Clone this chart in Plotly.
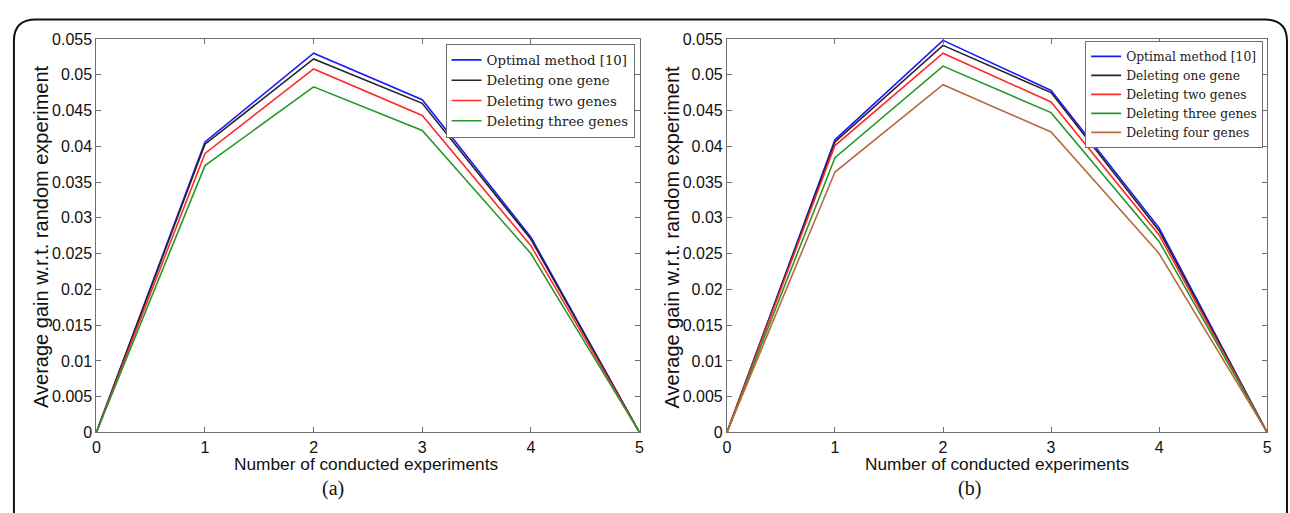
import plotly.graph_objects as go

W, H = 1290, 513

# Number of conducted experiments (x axis)
steps = [0, 1, 2, 3, 4, 5]

# Panel (a): average gain w.r.t. random experiment
a_optimal = [0, 0.0406, 0.0530, 0.0465, 0.0273, 0]
a_del_one = [0, 0.0403, 0.0522, 0.0460, 0.0270, 0]
a_del_two = [0, 0.0390, 0.0508, 0.0443, 0.0261, 0]
a_del_three = [0, 0.0373, 0.0483, 0.0422, 0.0250, 0]

# Panel (b): average gain w.r.t. random experiment
b_optimal = [0, 0.0409, 0.0548, 0.0478, 0.0286, 0]
b_del_one = [0, 0.0406, 0.0541, 0.0475, 0.0282, 0]
b_del_two = [0, 0.0401, 0.0530, 0.0462, 0.0276, 0]
b_del_three = [0, 0.0384, 0.0512, 0.0447, 0.0267, 0]
b_del_four = [0, 0.0364, 0.0486, 0.0420, 0.0250, 0]

series_names = ["Optimal method [10]", "Deleting one gene", "Deleting two genes",
                "Deleting three genes", "Deleting four genes"]
series_colors = ["#1a1aff", "#262626", "#ff2a2a", "#2a962a", "#b86a40"]

y_tick_vals = [0, 0.005, 0.01, 0.015, 0.02, 0.025, 0.03, 0.035, 0.04, 0.045, 0.05, 0.055]
y_tick_text = ["0", "0.005", "0.01", "0.015", "0.02", "0.025", "0.03", "0.035",
               "0.04", "0.045", "0.05", "0.055"]
x_tick_vals = [0, 1, 2, 3, 4, 5]


def px(x):
    return x / W


def py(y):
    return 1 - y / H


fig = go.Figure()

panel_a = [a_optimal, a_del_one, a_del_two, a_del_three]
panel_b = [b_optimal, b_del_one, b_del_two, b_del_three, b_del_four]

for i, ys in enumerate(panel_a):
    fig.add_trace(go.Scatter(x=steps, y=ys, mode="lines", name=series_names[i],
                             line=dict(color=series_colors[i], width=1.6),
                             xaxis="x", yaxis="y", legend="legend"))
for i, ys in enumerate(panel_b):
    fig.add_trace(go.Scatter(x=steps, y=ys, mode="lines", name=series_names[i],
                             line=dict(color=series_colors[i], width=1.6),
                             xaxis="x2", yaxis="y2", legend="legend2"))

tick_font = dict(family="Liberation Sans, Arial, sans-serif", size=16, color="#111")
axis_common = dict(showgrid=False, zeroline=False, showline=True, linecolor="#6e6e6e",
                   linewidth=1, mirror="ticks", ticks="inside", ticklen=5,
                   tickcolor="#6e6e6e", tickfont=tick_font)

left_x = (93, 640)
right_x = (728, 1272)
top_y, bot_y = 32, 439

legend_font = "DejaVu Serif, Liberation Serif, serif"

fig.update_layout(
    width=W, height=H,
    margin=dict(l=0, r=0, t=0, b=0),
    paper_bgcolor="white", plot_bgcolor="white",
    xaxis=dict(domain=[px(left_x[0]), px(left_x[1])], range=[0, 5], tickvals=x_tick_vals,
               anchor="y", **axis_common),
    yaxis=dict(domain=[py(bot_y), py(top_y)], range=[0, 0.055], tickvals=y_tick_vals,
               ticktext=y_tick_text, anchor="x", **axis_common),
    xaxis2=dict(domain=[px(right_x[0]), px(right_x[1])], range=[0, 5], tickvals=x_tick_vals,
                anchor="y2", **axis_common),
    yaxis2=dict(domain=[py(bot_y), py(top_y)], range=[0, 0.055], tickvals=y_tick_vals,
                ticktext=y_tick_text, anchor="x2", **axis_common),
    legend=dict(x=px(635), y=py(37), xanchor="right", yanchor="top",
                bgcolor="white", bordercolor="#6e6e6e", borderwidth=1,
                font=dict(family=legend_font, size=13.3, color="#222"),
                tracegroupgap=0, itemwidth=30),
    legend2=dict(x=px(1268), y=py(34), xanchor="right", yanchor="top",
                 bgcolor="white", bordercolor="#6e6e6e", borderwidth=1,
                 font=dict(family=legend_font, size=12.3, color="#222"),
                 tracegroupgap=0, itemwidth=30),
    showlegend=True,
)

title_font = dict(family="Liberation Sans, Arial, sans-serif", size=17.3, color="#111")
ytitle_font = dict(family="Liberation Sans, Arial, sans-serif", size=20, color="#111")
label_font = dict(family="Liberation Serif, Times New Roman, serif", size=20, color="#111")

annotations = [
    dict(text="Number of conducted experiments", x=px(365), y=py(459), yanchor="top",
         font=title_font),
    dict(text="Number of conducted experiments", x=px(1000), y=py(459), yanchor="top",
         font=title_font),
    dict(text="Average gain w.r.t. random experiment", x=px(37), y=py(237), textangle=-90,
         font=ytitle_font),
    dict(text="Average gain w.r.t. random experiment", x=px(673), y=py(237), textangle=-90,
         font=ytitle_font),
    dict(text="(a)", x=px(331), y=py(497), font=label_font),
    dict(text="(b)", x=px(972), y=py(497), font=label_font),
]
for a in annotations:
    a.setdefault("yanchor", "middle")
    a.update(xref="paper", yref="paper", showarrow=False, xanchor="center")
fig.update_layout(annotations=annotations)

# Rounded frame around the figure
r = 22
frame = (f"M {px(10)},{py(530)} L {px(10)},{py(12 + r)} "
         f"Q {px(10)},{py(12)} {px(10 + r)},{py(12)} "
         f"L {px(1292 - r)},{py(12)} Q {px(1292)},{py(12)} {px(1292)},{py(12 + r)} "
         f"L {px(1292)},{py(530)}")
fig.add_shape(type="path", path=frame, xref="paper", yref="paper",
              line=dict(color="#111", width=2))

fig.write_html("out.html")
